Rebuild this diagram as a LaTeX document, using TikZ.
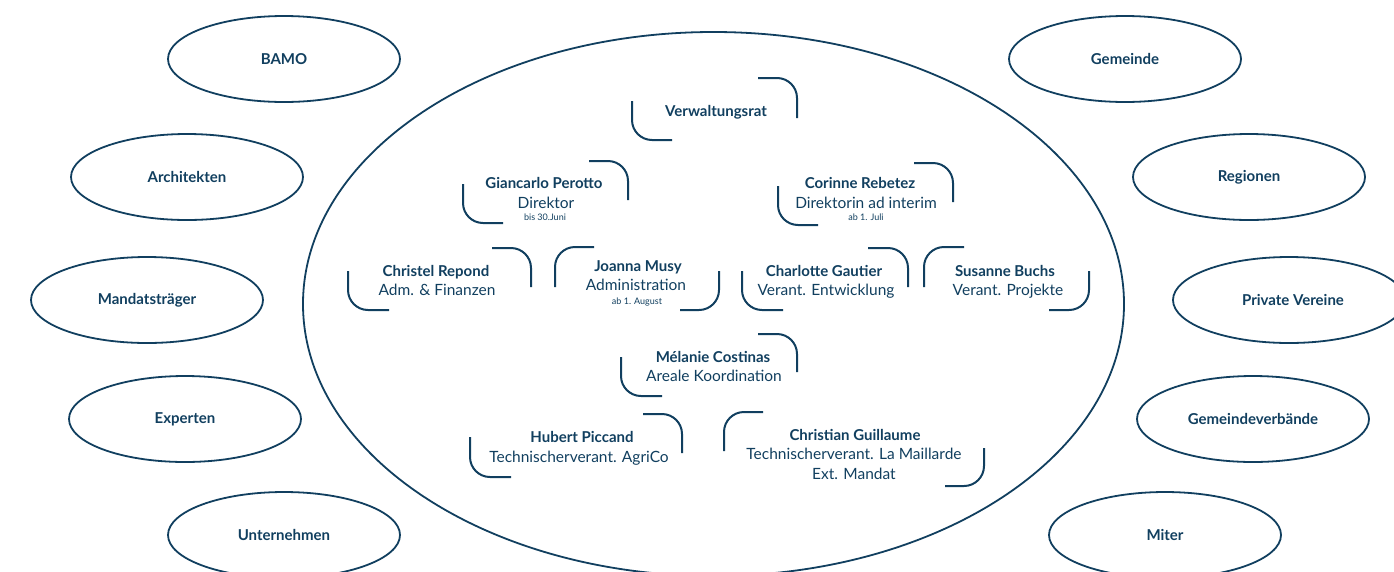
\documentclass[tikz,border=0pt]{standalone}
\usepackage{fontspec}
\setmainfont{Lato}
\usetikzlibrary{shapes.geometric}
\definecolor{navy}{HTML}{113F5F}
\tikzset{
  x=1pt,y=-1pt,
  oval/.style={ellipse,draw=navy,line width=1.8pt,minimum width=232pt,minimum height=86pt,inner sep=0pt,text=navy,font=\fontsize{15}{18}\selectfont\bfseries},
  bigoval/.style={ellipse,draw=navy,line width=1.8pt,minimum width=821pt,minimum height=544pt,inner sep=0pt},
  corner/.style={draw=navy,line width=2pt,rounded corners=20pt},
  nameline/.style={anchor=base,inner sep=0pt,text=navy,font=\fontsize{15}{18}\selectfont\bfseries},
  roleline/.style={anchor=base,inner sep=0pt,text=navy,font=\fontsize{15.5}{18}\selectfont},
  noteline/.style={anchor=base,inner sep=0pt,text=navy,font=\fontsize{9}{11}\selectfont},
}
\begin{document}
\begin{tikzpicture}
\useasboundingbox (0,0) rectangle (1394,571);
\clip (0,0) rectangle (1394,571);
\node[bigoval] (main) at (713.5,304) {};
\node[oval] (bamo) at (284,59) {BAMO};
\node[oval] (arch) at (187,177) {Architekten};
\node[oval] (mand) at (147,300) {Mandatsträger};
\node[oval] (expe) at (185,419) {Experten};
\node[oval] (unte) at (284,535) {Unternehmen};
\node[oval] (geme) at (1125,59) {Gemeinde};
\node[oval] (regi) at (1249,177) {Regionen};
\node[oval] (priv) at (1289,300) {\hspace*{8pt}Private Vereine};
\node[oval] (gver) at (1253,419) {Gemeindeverbände};
\node[oval] (mite) at (1165,535) {Miter};
% Verwaltungsrat
\draw[corner] (758,78) -- (797,78) -- (797,118);
\draw[corner] (632,101) -- (632,140) -- (672,140);
\node[nameline] (vr) at (716,116) {Verwaltungsrat};
% Giancarlo
\draw[corner] (589,161) -- (628,161) -- (628,200);
\draw[corner] (463,184) -- (463,223) -- (503,223);
\node[nameline] (gp) at (544,188) {Giancarlo Perotto};
\node[roleline] (gpr) at (546,208) {Direktor};
\node[noteline] (gpn) at (545,220) {bis 30.Juni};
% Corinne
\draw[corner] (914,163) -- (953,163) -- (953,202);
\draw[corner] (778,186) -- (778,225) -- (818,225);
\node[nameline] (cr) at (860,188) {Corinne Rebetez};
\node[roleline] (crr) at (866,208) {Direktorin ad interim};
\node[noteline] (crn) at (866,220) {ab 1. Juli};
% Christel
\draw[corner] (492,248) -- (531,248) -- (531,287);
\draw[corner] (348,271) -- (348,310) -- (389,310);
\node[nameline] (chr) at (436,276) {Christel Repond};
\node[roleline] (chrr) at (437,295) {Adm. \& Finanzen};
% Joanna
\draw[corner] (594,247) -- (555,247) -- (555,287);
\draw[corner] (719,271) -- (719,310) -- (680,310);
\node[nameline] (jm) at (638,271) {Joanna Musy};
\node[roleline] (jmr) at (636,290) {Administration};
\node[noteline] (jmn) at (637,304) {ab 1. August};
% Charlotte
\draw[corner] (868,248) -- (908,248) -- (908,287);
\draw[corner] (742,271) -- (742,310) -- (783,310);
\node[nameline] (cg) at (824,276) {Charlotte Gautier};
\node[roleline] (cgr) at (826,295) {Verant. Entwicklung};
% Susanne
\draw[corner] (964,247) -- (924,247) -- (924,287);
\draw[corner] (1089,271) -- (1089,310) -- (1049,310);
\node[nameline] (sb) at (1005,276) {Susanne Buchs};
\node[roleline] (sbr) at (1008,295) {Verant. Projekte};
% Melanie
\draw[corner] (758,334) -- (797,334) -- (797,372);
\draw[corner] (621,357) -- (621,396) -- (662,396);
\node[nameline] (mc) at (713,362) {Mélanie Costinas};
\node[roleline] (mcr) at (714,381) {Areale Koordination};
% Hubert
\draw[corner] (643,414) -- (682,414) -- (682,453);
\draw[corner] (470,437) -- (470,477) -- (511,477);
\node[nameline] (hp) at (582,442) {Hubert Piccand};
\node[roleline] (hpr) at (579,462) {Technischerverant. AgriCo};
% Christian
\draw[corner] (763,412) -- (724,412) -- (724,451);
\draw[corner] (984,448) -- (984,486) -- (945,486);
\node[nameline] (gu) at (855,440) {Christian Guillaume};
\node[roleline] (gur) at (854,459) {Technischerverant. La Maillarde};
\node[roleline] (gum) at (854,479) {Ext. Mandat};
\end{tikzpicture}
\end{document}
